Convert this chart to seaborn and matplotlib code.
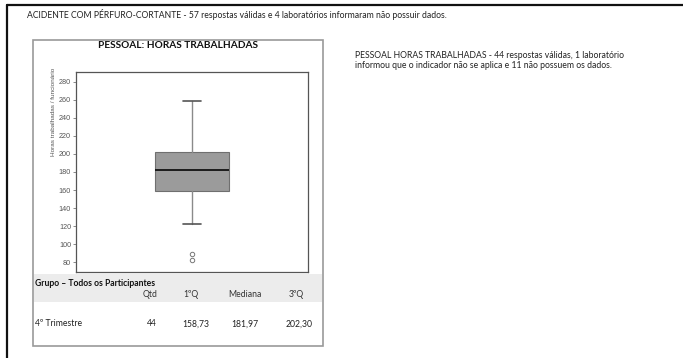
import matplotlib
matplotlib.use("Agg")
import matplotlib.pyplot as plt
from matplotlib.patches import Rectangle
from matplotlib.lines import Line2D
import seaborn as sns

# Summary statistics for hours worked per employee
group_label = "4º Trimestre"
n_valid = 44
q1 = 158.73
median = 181.97
q3 = 202.30
whisker_low = 122.0
whisker_high = 258.5
outliers = [89.0, 82.0]

yticks = [80, 100, 120, 140, 160, 180, 200, 220, 240, 260, 280]
table_headers = ["Qtd", "1ºQ", "Mediana", "3ºQ"]

sns.set_theme(style="white")
plt.rcParams["font.family"] = ["Lato", "DejaVu Sans"]

W, H = 683, 358
fig = plt.figure(figsize=(W / 100, H / 100), dpi=100)


def fx(px):
    return px / W


def fy(py):
    return 1 - py / H


TXT = 6.2

# Outer frame (top and left rules)
fig.add_artist(Line2D([fx(7), 1], [fy(4.5), fy(4.5)], color="#111111", lw=1.6, zorder=-5))
fig.add_artist(Line2D([fx(7), fx(7)], [fy(4.5), 0], color="#111111", lw=1.6, zorder=-5))

fig.text(fx(27), fy(15), "ACIDENTE COM PÉRFURO-CORTANTE - 57 respostas válidas e 4 laboratórios informaram não possuir dados.",
         fontsize=TXT, color="#222222", va="center", ha="left")

# Panel with the chart and its summary table
fig.add_artist(Rectangle((fx(33), fy(346)), fx(323) - fx(33), fy(40) - fy(346),
                         facecolor="white", edgecolor="#9a9a9a", lw=1.2, zorder=-5))
fig.add_artist(Rectangle((fx(34), fy(302)), fx(322) - fx(34), fy(274) - fy(302),
                         facecolor="#ececec", edgecolor="none", lw=0, zorder=-4))

fig.text(fx(178), fy(46), "PESSOAL: HORAS TRABALHADAS", fontsize=7.3, fontweight="bold",
         color="#111111", ha="center", va="center")

ax = fig.add_axes([fx(76), fy(272), fx(308) - fx(76), fy(72) - fy(272)])
stats = [{
    "med": median, "q1": q1, "q3": q3,
    "whislo": whisker_low, "whishi": whisker_high,
    "fliers": outliers, "label": "",
}]
ax.bxp(stats, positions=[0], widths=0.64, patch_artist=True,
       boxprops=dict(facecolor="#9b9b9b", edgecolor="#6f6f6f", lw=0.8),
       medianprops=dict(color="#111111", lw=1.3),
       whiskerprops=dict(color="#8a8a8a", lw=1.0),
       capprops=dict(color="#555555", lw=1.2),
       capwidths=0.16,
       flierprops=dict(marker="o", markersize=3.2, markerfacecolor="none",
                       markeredgecolor="#777777", markeredgewidth=0.7))
ax.set_xlim(-1, 1)
ax.set_ylim(69, 291)
ax.set_xticks([])
ax.set_yticks(yticks)
ax.set_yticklabels([str(t) for t in yticks], fontsize=5.2, color="#555555",
                   family=["Liberation Sans", "DejaVu Sans"])
ax.tick_params(axis="y", length=2.5, width=0.6, color="#777777", pad=1, left=True)
for s in ax.spines.values():
    s.set_color("#555555")
    s.set_linewidth(0.9)
ax.set_ylabel("Horas trabalhadas / funcionário", fontsize=4.6, color="#555555",
              family=["Liberation Sans", "DejaVu Sans"], labelpad=1)
ax.yaxis.set_label_coords(-0.085, 0.80)

# Summary table
fig.text(fx(35), fy(284), "Grupo – Todos os Participantes", fontsize=TXT, fontweight="bold",
         color="#111111", ha="left", va="center")
header_x = [150, 191, 245, 296]
for hx, h in zip(header_x, table_headers):
    fig.text(fx(hx), fy(294.5), h, fontsize=TXT, color="#333333", ha="center", va="center")

fig.text(fx(35), fy(324), group_label, fontsize=TXT, color="#222222", ha="left", va="center")
values_txt = [str(n_valid)] + [f"{v:.2f}".replace(".", ",") for v in (q1, median, q3)]
value_x = [152, 196, 245, 299]
for vx, v in zip(value_x, values_txt):
    fig.text(fx(vx), fy(324), v, fontsize=TXT, color="#222222", ha="center", va="center")

# Note beside the chart
fig.text(fx(355), fy(55), "PESSOAL HORAS TRABALHADAS - 44 respostas válidas, 1 laboratório",
         fontsize=TXT, color="#222222", ha="left", va="center")
fig.text(fx(355), fy(65), "informou que o indicador não se aplica e 11 não possuem os dados.",
         fontsize=TXT, color="#222222", ha="left", va="center")

fig.savefig("out.png", dpi=100)
